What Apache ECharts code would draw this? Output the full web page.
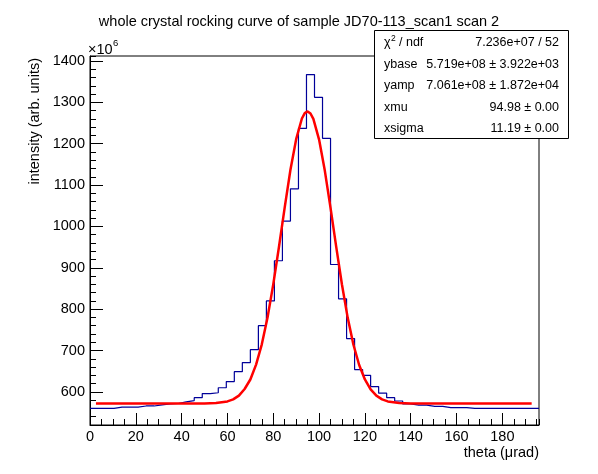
<!DOCTYPE html>
<html lang="en">

<head>
    <meta charset="UTF-8">
    <title>rocking curve</title>
    <script src="https://cdn.jsdelivr.net/npm/echarts@6/dist/echarts.min.js"></script>
    <style>
        html, body {
            margin: 0;
            padding: 0;
            background: #fff;
        }

        #chart {
            width: 598px;
            height: 474px;
        }
    </style>
</head>

<body>
    <div id="chart"></div>
    <script>
        // histogram: 56 bins of 3.5 urad starting at 0
        var binLow = 0;
        var binWidth = 3.5;
        var counts = [
            560, 560, 560, 563, 563, 563, 566, 566, 568.5, 571,
            572, 576, 579, 586, 596, 598, 610, 625, 649, 671,
            702, 760, 820, 917, 1013, 1091, 1237, 1367, 1312, 1213,
            908, 825, 729, 654, 640, 613, 597, 586, 578, 571,
            568, 568, 565, 565, 562, 562, 562, 560, 560, 560,
            560, 560, 560, 560, 560, 560
        ];

        // fitted curve
        var fitX = [2.6, 40, 50, 55, 60, 62.5, 65, 67.5, 70, 72.5, 75, 77.5, 80, 82.5, 85, 87.5, 90, 92.5, 93.75, 95,
            96.25, 97.5, 100, 102.5, 105, 107.5, 110, 112.5, 115, 117.5, 120, 122.5, 125, 127.5, 130, 135, 140, 150, 192.8];
        var fitY = [572, 572, 572, 573, 577, 582, 591, 607, 630, 666, 715, 780, 860, 951, 1046, 1137, 1211, 1261, 1274, 1278,
            1273, 1260, 1210, 1135, 1045, 950, 859, 779, 714, 665, 630, 606, 591, 582, 577, 573, 572, 572, 572];

        var xTicks = [0, 20, 40, 60, 80, 100, 120, 140, 160, 180];
        var yTicks = [600, 700, 800, 900, 1000, 1100, 1200, 1300, 1400];

        var statNames = ['ybase', 'yamp', 'xmu', 'xsigma'];
        var statValues = ['7.236e+07 / 52', '5.719e+08 \u00b1 3.922e+03', '7.061e+08 \u00b1 1.872e+04',
            '94.98 \u00b1 0.00', '11.19 \u00b1 0.00'];

        var font = 'Liberation Sans, Arial, Helvetica, sans-serif';

        var histData = counts.map(function (v, i) {
            return [binLow + i * binWidth, v];
        });
        histData.push([binLow + counts.length * binWidth, counts[counts.length - 1]]);

        var fitData = fitX.map(function (x, i) {
            return [x, fitY[i]];
        });

        var chart = echarts.init(document.getElementById('chart'));

        // stats box
        var statEls = [{
            type: 'rect',
            shape: { x: 374.5, y: 30.5, width: 194, height: 108 },
            style: { fill: '#fff', stroke: '#000', lineWidth: 1 },
            z: 10
        }, {
            type: 'text', x: 384, y: 43, z: 11,
            style: { text: '\u03c7', fontSize: 12.5, fontFamily: font, fill: '#000', verticalAlign: 'middle' }
        }, {
            type: 'text', x: 391, y: 38.5, z: 11,
            style: { text: '2', fontSize: 8.5, fontFamily: font, fill: '#000', verticalAlign: 'middle' }
        }, {
            type: 'text', x: 399, y: 43, z: 11,
            style: { text: '/ ndf', fontSize: 12.5, fontFamily: font, fill: '#000', verticalAlign: 'middle' }
        }];
        statNames.forEach(function (name, i) {
            statEls.push({
                type: 'text', x: 384, y: 64.5 + i * 21.5, z: 11,
                style: { text: name, fontSize: 12.5, fontFamily: font, fill: '#000', verticalAlign: 'middle' }
            });
        });
        statValues.forEach(function (val, i) {
            statEls.push({
                type: 'text', x: 559, y: 43 + i * 21.5, z: 11,
                style: { text: val, fontSize: 12.5, fontFamily: font, fill: '#000', align: 'right', verticalAlign: 'middle' }
            });
        });

        var option = {
            animation: false,
            backgroundColor: '#fff',
            title: {
                text: 'whole crystal rocking curve of sample JD70-113_scan1 scan 2',
                left: 'center',
                top: 9,
                textStyle: { fontSize: 14.5, fontWeight: 'normal', color: '#000', fontFamily: font }
            },
            grid: {
                left: 90, right: 59, top: 56, bottom: 49,
                show: true, borderColor: '#000', borderWidth: 1
            },
            xAxis: [{
                type: 'value', position: 'bottom', min: 0, max: 196,
                axisLine: { lineStyle: { color: '#000', width: 1 } },
                axisTick: { inside: true, length: 12, customValues: xTicks, lineStyle: { color: '#000' } },
                axisLabel: { customValues: xTicks, margin: 4, fontSize: 14.5, color: '#000', fontFamily: font },
                splitLine: { show: false }
            }, {
                // minor ticks
                type: 'value', position: 'bottom', min: 0, max: 196, interval: 5,
                axisLine: { show: false },
                axisTick: { inside: true, length: 6, lineStyle: { color: '#000' } },
                axisLabel: { show: false },
                splitLine: { show: false }
            }],
            yAxis: [{
                type: 'value', position: 'left', min: 520, max: 1412,
                axisLine: { show: true, lineStyle: { color: '#000', width: 1 } },
                axisTick: { show: true, inside: true, length: 13, customValues: yTicks, lineStyle: { color: '#000' } },
                axisLabel: {
                    customValues: yTicks, margin: 5, fontSize: 14.5, color: '#000', fontFamily: font,
                    formatter: function (v) { return String(v); }
                },
                splitLine: { show: false }
            }, {
                type: 'value', position: 'left', min: 520, max: 1412, interval: 20,
                axisLine: { show: false },
                axisTick: { show: true, inside: true, length: 6, lineStyle: { color: '#000' } },
                axisLabel: { show: false },
                splitLine: { show: false }
            }],
            series: [{
                name: 'hist',
                type: 'line',
                step: 'end',
                symbol: 'none',
                data: histData,
                lineStyle: { color: '#000099', width: 1.2 },
                z: 2
            }, {
                name: 'fit',
                type: 'line',
                symbol: 'none',
                data: fitData,
                lineStyle: { color: '#ff0000', width: 2.5 },
                z: 3
            }],
            graphic: [{
                type: 'text', x: 35, y: 58, rotation: Math.PI / 2,
                style: {
                    text: 'intensity (arb. units)', fontSize: 14.5, fontFamily: font, fill: '#000',
                    align: 'right', verticalAlign: 'middle'
                }
            }, {
                type: 'text', x: 539, y: 453,
                style: {
                    text: 'theta (\u03bcrad)', fontSize: 14.5, fontFamily: font, fill: '#000',
                    align: 'right', verticalAlign: 'middle'
                }
            }, {
                type: 'text', x: 88, y: 50,
                style: { text: '\u00d710', fontSize: 14.5, fontFamily: font, fill: '#000', verticalAlign: 'middle' }
            }, {
                type: 'text', x: 113, y: 43,
                style: { text: '6', fontSize: 9.5, fontFamily: font, fill: '#000', verticalAlign: 'middle' }
            }].concat(statEls)
        };
        chart.setOption(option);
    </script>
</body>

</html>
